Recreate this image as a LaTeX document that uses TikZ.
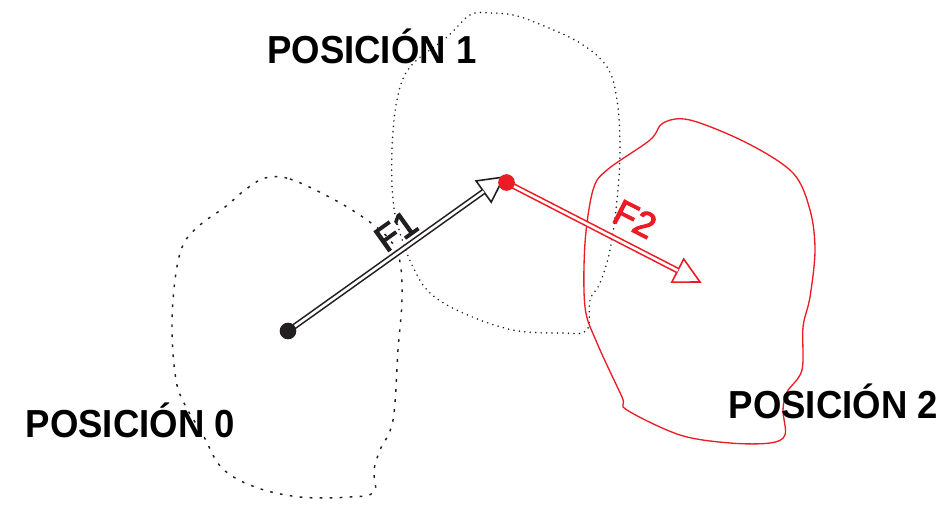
\documentclass[tikz,border=0pt]{standalone}
\usepackage{fontspec}
\setmainfont{Liberation Sans}
\newfontfamily\forcefont[FakeBold=3]{Liberation Sans}
\usetikzlibrary{calc}
\definecolor{inkblack}{HTML}{231F20}
\definecolor{inkred}{HTML}{ED1C24}
\pgfdeclarelayer{back}
\pgfsetlayers{back,main}
\begin{document}
\begin{tikzpicture}[x=0.75pt,y=-0.75pt,
  coarsedots/.style={draw=inkblack, line width=1.1pt, dash pattern=on 2pt off 5.5pt},
  finedots/.style={draw=inkblack, line width=1.3pt, line cap=round, dash pattern=on 0pt off 4.1pt},
  redoutline/.style={draw=inkred, line width=1pt},
  posdot/.style={circle, inner sep=0pt, minimum size=12.5pt},
  force/.style={double=white, double distance=2pt, line width=1.2pt},
  forcehead/.style={fill=white, line width=1.2pt, line join=miter},
  poslabel/.style={font=\fontsize{27.4pt}{30pt}\selectfont\bfseries, inner sep=0pt, text=black, anchor=base west},
  forcelabel/.style={font=\forcefont\fontsize{27pt}{29pt}\selectfont, inner sep=0pt}]
\useasboundingbox (0,0) rectangle (946,504);

% point masses
\node[posdot, fill=inkblack] (p0) at (288,331) {};
\node[posdot, fill=inkred] (p1) at (506.5,182.5) {};

% arrow tips of the two forces
\coordinate (t1) at (504,177);
\coordinate (t2) at (700,282);
\coordinate (b1) at ($(t1)!18.75pt!(p0)$);
\coordinate (b2) at ($(t2)!18.75pt!(p1)$);

\begin{pgfonlayer}{back}
% position 0 outline
\draw[coarsedots] plot[smooth cycle, tension=0.6] coordinates {
  (265,178) (290,179) (333,199) (367,220) (390,240) (400,262) (402,300)
  (398,350) (393,420) (380,450) (374,470) (374,492) (350,497) (300,497)
  (255,487) (222,468) (203,435) (185,405) (176,380) (172,330) (175,280)
  (183,245) (200,225) (225,207) (245,190)};
% position 1 outline
\draw[finedots] plot[smooth cycle, tension=0.6] coordinates {
  (490,13) (513,15) (537,23) (580,43) (607,67) (617,100) (620,150)
  (617,200) (610,250) (600,283) (590,300) (587,330) (563,333) (513,330)
  (463,313) (430,293) (413,267) (400,233) (393,200) (392,150) (397,100)
  (410,67) (447,37) (470,15)};
% position 2 outline
\draw[redoutline] plot[smooth cycle, tension=0.55] coordinates {
  (663,123) (690,120) (747,143) (793,173) (810,210) (815,250) (810,297)
  (803,327) (802,370) (787,392) (783,410) (785,435) (770,443) (730,443)
  (680,435) (627,410) (622,397) (597,343) (585,307) (585,243) (593,190)
  (607,170) (650,140)};

% force F1
\draw[forcehead, draw=inkblack] ($(b1)!9.75pt!90:(t1)$) -- (t1) -- ($(b1)!9.75pt!-90:(t1)$) -- cycle;
\draw[force, draw=inkblack] (p0.center) -- (b1);
% force F2
\draw[forcehead, draw=inkred] ($(b2)!9.75pt!90:(t2)$) -- (t2) -- ($(b2)!9.75pt!-90:(t2)$) -- cycle;
\draw[force, draw=inkred] (p1.center) -- (b2);
\end{pgfonlayer}

% labels
\node[forcelabel, text=inkblack, rotate=35.5] (f1) at (396,231) {F1};
\node[forcelabel, text=inkred, rotate=-27] (f2) at (635,219) {F2};
\node[poslabel] (l1) at (267,63) {\scalebox{1}[1.07]{POSICIÓN 1}};
\node[poslabel] (l0) at (25.5,437) {\scalebox{1}[1.07]{POSICIÓN 0}};
\node[poslabel] (l2) at (728.5,418) {\scalebox{1}[1.07]{POSICIÓN 2}};
\end{tikzpicture}
\end{document}
